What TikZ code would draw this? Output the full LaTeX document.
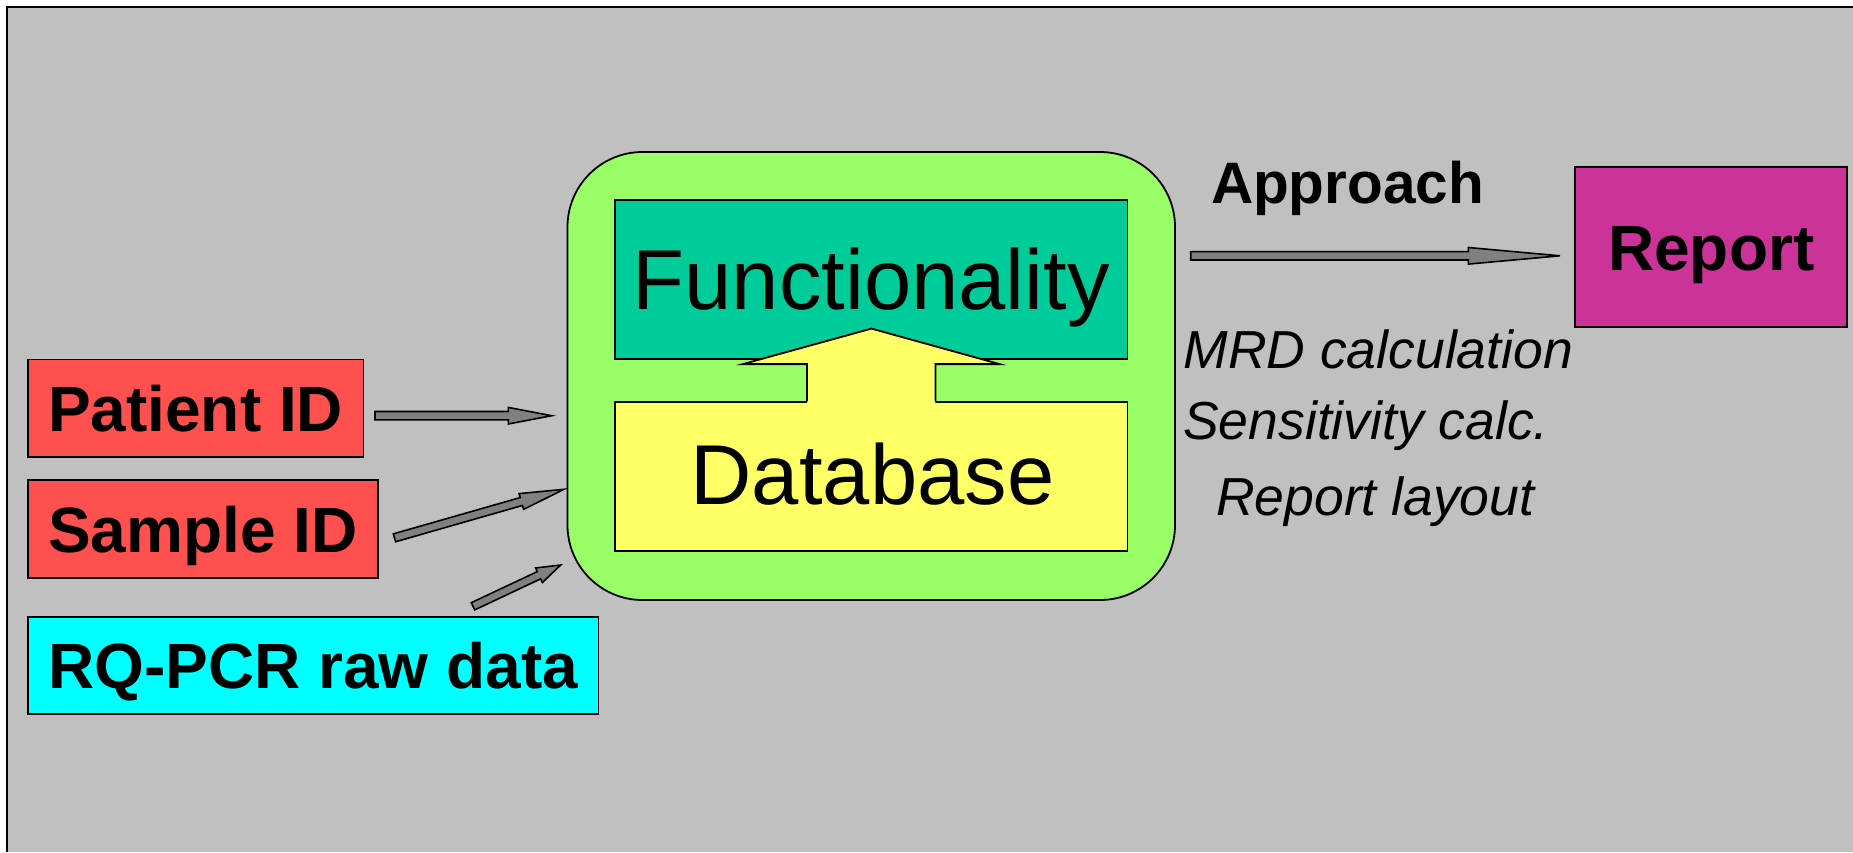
\documentclass[tikz,border=0pt]{standalone}
\usepackage{fontspec}
\setmainfont{Liberation Sans}
\usetikzlibrary{calc}
\definecolor{bggray}{HTML}{C0C0C0}
\definecolor{framegreen}{HTML}{99FF66}
\definecolor{funcgreen}{HTML}{00CC99}
\definecolor{dbyellow}{HTML}{FFFF66}
\definecolor{idred}{HTML}{FF5050}
\definecolor{rqcyan}{HTML}{00FFFF}
\definecolor{repmag}{HTML}{CC3399}
\definecolor{arrgray}{HTML}{808080}
\newcommand\blockarr[5]{%
  \coordinate (#2-hb) at ($(#2)!#5!(#1)$);
  \draw[garrow] ($(#1)!#3!90:(#2)$) -- ($(#2-hb)!#3!90:(#2)$) -- ($(#2-hb)!#4!90:(#2)$) -- (#2)
    -- ($(#2-hb)!#4!-90:(#2)$) -- ($(#2-hb)!#3!-90:(#2)$) -- ($(#1)!#3!-90:(#2)$) -- cycle;}
\begin{document}
\begin{tikzpicture}[x=1pt,y=-1pt,
  box/.style={draw=black, line width=1.8pt, inner sep=0pt, text depth=0pt},
  bigtxt/.style={font=\fontsize{85}{90}\selectfont, text height=60.9pt},
  idtxt/.style={font=\fontsize{64}{70}\selectfont\bfseries, text height=45.8pt},
  ittxt/.style={font=\fontsize{53.5}{58}\selectfont\itshape, inner sep=0pt, anchor=base west},
  garrow/.style={draw=black, line width=1.6pt, fill=arrgray, line join=miter}]
\useasboundingbox (0,0) rectangle (1853,852);
\fill[white] (0,0) rectangle (1853,852);
\fill[bggray] (7,7) rectangle (1853,852);
\draw[line width=2pt] (7,852) -- (7,7) -- (1853,7);

% container
\node[draw=black, line width=1.8pt, fill=framegreen, rounded corners=75pt,
  minimum width=607.5pt, minimum height=448pt, inner sep=0pt] (frame) at (871.25,376) {};
\node[box, bigtxt, fill=funcgreen, minimum width=512.5pt, minimum height=159.6pt] (func) at (871.25,279.5) {Functionality};
\node[box, bigtxt, fill=dbyellow, minimum width=512.5pt, minimum height=148.4pt] (db) at (871.25,476.5) {};

% up arrow from database to functionality
\coordinate (tipF) at ($(func.south)+(0.2,-31.6)$);
\fill[dbyellow] ($(db.north)+(-64.2,3)$) -- ($(db.north)+(-64.2,-37.3)$) -- ($(db.north)+(-128.3,-37.3)$) -- (tipF)
  -- ($(db.north)+(128.3,-37.3)$) -- ($(db.north)+(64.2,-37.3)$) -- ($(db.north)+(64.2,3)$) -- cycle;
\draw[line width=1.8pt, line join=miter] ($(db.north)+(-64.2,0)$) -- ($(db.north)+(-64.2,-37.3)$) -- ($(db.north)+(-128.3,-37.3)$) -- (tipF)
  -- ($(db.north)+(128.3,-37.3)$) -- ($(db.north)+(64.2,-37.3)$) -- ($(db.north)+(64.2,0)$);
\node[bigtxt, inner sep=0pt] (dbtext) at (872.5,474.7) {Database};

% input boxes
\node[box, idtxt, fill=idred, minimum width=335.8pt, minimum height=97.2pt] (patient) at (195.6,408.1) {Patient ID};
\node[box, idtxt, fill=idred, minimum width=350.6pt, minimum height=98.3pt] (sample) at (203,529.2) {Sample ID};
\node[box, idtxt, fill=rqcyan, minimum width=570.8pt, minimum height=97.3pt] (rq) at (313.1,665.4) {RQ-PCR raw data};
\node[box, idtxt, fill=repmag, minimum width=272.3pt, minimum height=160pt] (report) at (1711.2,247.3) {Report};

% gray block arrows
\coordinate (pt) at (375,415.7);   \coordinate (pp) at (551.7,415.7);
\coordinate (st) at (394.5,537.8); \coordinate (sp) at (564,489.3);
\coordinate (rt) at (473,606.3);   \coordinate (rp) at (560.7,565);
\coordinate (at) at (1190.7,255.8);\coordinate (ap) at (1560,255.8);
\blockarr{pt}{pp}{4.2pt}{8.3pt}{43.4pt}
\blockarr{st}{sp}{4.1pt}{8.2pt}{44.4pt}
\blockarr{rt}{rp}{4.0pt}{8.0pt}{24pt}
\blockarr{at}{ap}{4.2pt}{8.3pt}{91.7pt}

% labels
\node[font=\fontsize{58.5}{63}\selectfont\bfseries, inner sep=0pt, anchor=base] (appr) at (1347.5,203.3) {Approach};
\node[ittxt] (mrd) at (1183.3,368.3) {MRD calculation};
\node[ittxt] (sens) at (1183,439.3) {Sensitivity calc.};
\node[ittxt] (layout) at (1216,515) {Report layout};
\end{tikzpicture}
\end{document}
